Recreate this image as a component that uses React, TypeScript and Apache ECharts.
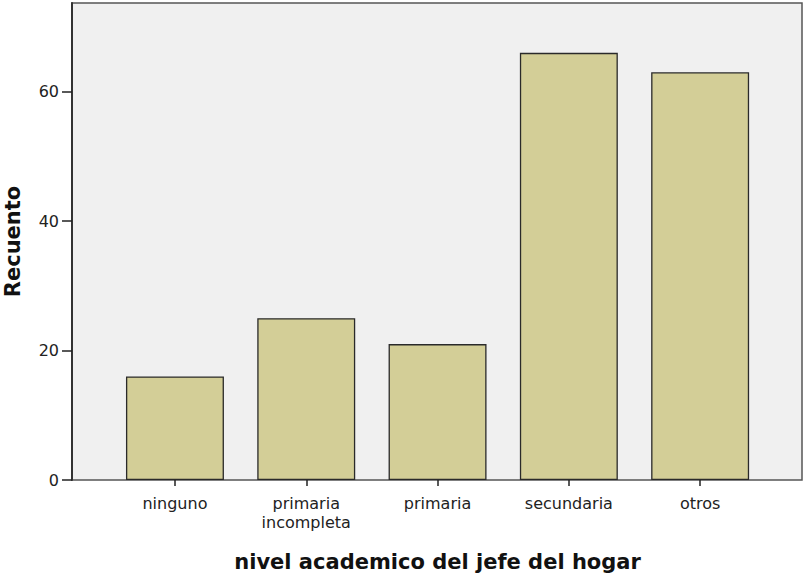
import React, { useEffect, useRef } from "react";
import * as echarts from "echarts";

const categories = ["ninguno", "primaria\nincompleta", "primaria", "secundaria", "otros"];
const counts = [16, 25, 21, 66, 63];
const yTicks = [0, 20, 40, 60];
const yMax = 73.7;
const xTitle = "nivel academico del jefe del hogar";
const yTitle = "Recuento";

export default function App() {
  const ref = useRef<HTMLDivElement>(null);
  useEffect(() => {
    document.body.style.margin = "0";
    const chart = echarts.init(ref.current!, undefined, { renderer: "svg" });
    const font = "DejaVu Sans";
    chart.setOption({
      animation: false,
      backgroundColor: "#ffffff",
      textStyle: { fontFamily: font },
      grid: [
        { left: 72, top: 3, width: 730, height: 477, show: true, backgroundColor: "#f0f0f0", borderColor: "#555555", borderWidth: 1.5, containLabel: false, outerBoundsMode: "none" },
        { left: 109.3, top: 3, width: 656.5, height: 477, containLabel: false, outerBoundsMode: "none" },
      ],
      xAxis: [
        { type: "value", gridIndex: 0, show: false, min: 0, max: 1 },
        {
          type: "category",
          gridIndex: 1,
          data: categories,
          axisLine: { show: false },
          axisTick: { show: true, alignWithLabel: true, length: 6, lineStyle: { color: "#222", width: 1.5 } },
          axisLabel: { color: "#222", fontSize: 16, lineHeight: 19, margin: 14, fontFamily: font },
          name: xTitle,
          nameLocation: "middle",
          nameGap: 71,
          nameTextStyle: { fontSize: 21, fontWeight: "bold", color: "#111", fontFamily: font },
        },
      ],
      yAxis: [
        {
          type: "value",
          gridIndex: 0,
          min: 0,
          max: yMax,
          splitLine: { show: false },
          axisLine: { show: true, lineStyle: { color: "#333", width: 2 } },
          axisTick: { show: true, length: 10, customValues: yTicks, lineStyle: { color: "#222", width: 1.5 } },
          axisLabel: { customValues: yTicks, color: "#222", fontSize: 16, margin: 13, fontFamily: font },
          name: yTitle,
          nameLocation: "middle",
          nameGap: 49,
          nameTextStyle: { fontSize: 21, fontWeight: "bold", color: "#111", fontFamily: font },
        },
        { type: "value", gridIndex: 1, min: 0, max: yMax, show: false, splitLine: { show: false } },
      ],
      series: [
        {
          type: "bar",
          xAxisIndex: 1,
          yAxisIndex: 1,
          data: counts,
          barWidth: "74.6%",
          itemStyle: { color: "#d3ce97", borderColor: "#2a2a2a", borderWidth: 1.3 },
        },
      ],
    });
    return () => chart.dispose();
  }, []);
  return <div ref={ref} style={{ width: 806, height: 575 }} />;
}
